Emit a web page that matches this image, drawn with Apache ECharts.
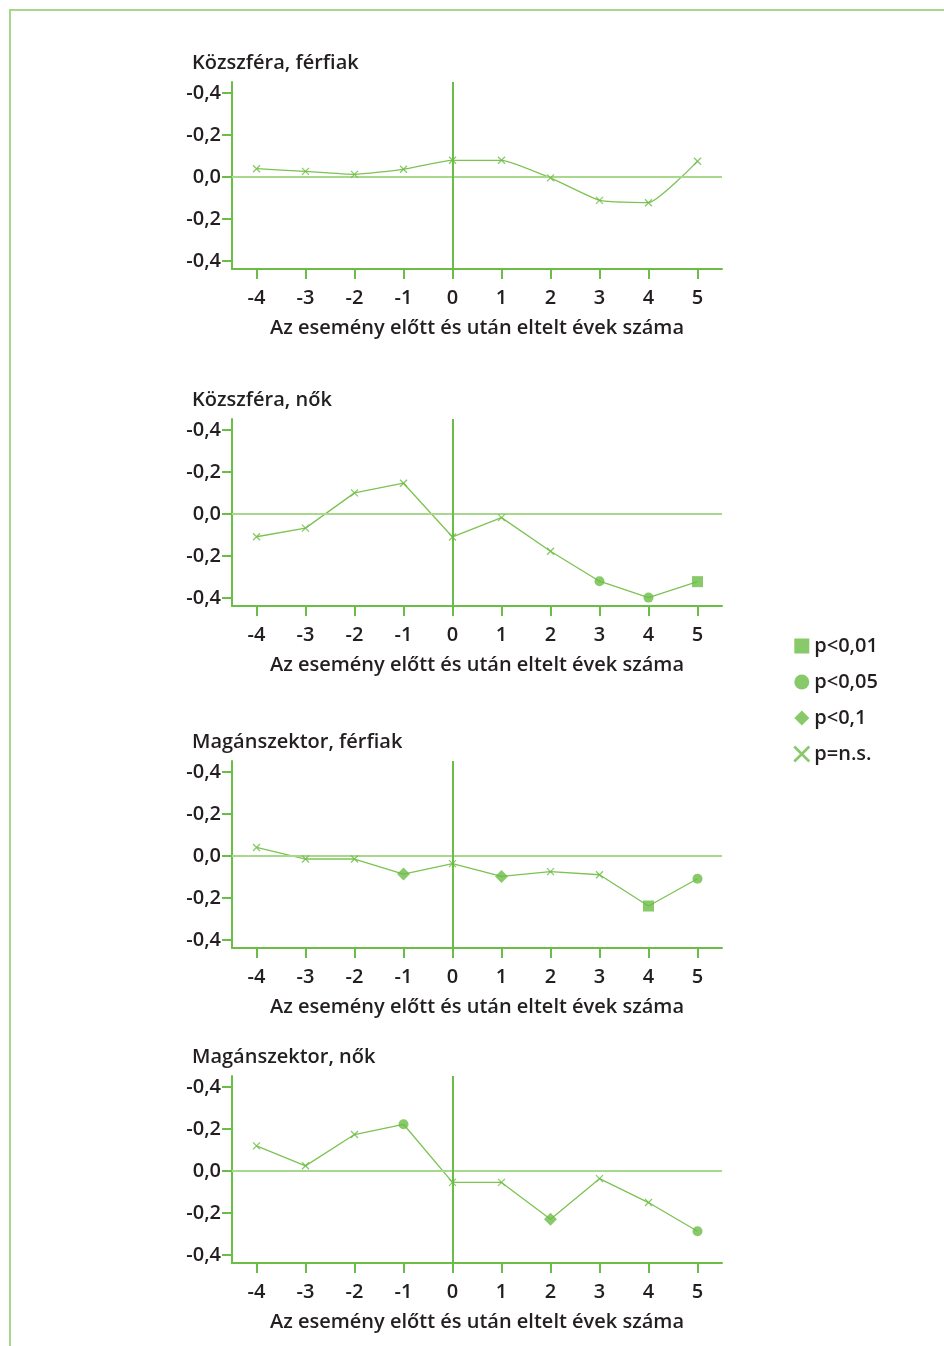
<!DOCTYPE html>
<html>
<head>
<meta charset="utf-8">
<script src="https://cdn.jsdelivr.net/npm/echarts@6/dist/echarts.min.js"></script>
<style>
  html, body { margin: 0; padding: 0; background: #ffffff; }
  #frame { position: absolute; left: 9px; top: 9px; width: 935px; height: 1337px;
           border-top: 2px solid #a6d88c; border-left: 2px solid #a6d88c; }
  #chart { position: absolute; left: 0; top: 0; width: 944px; height: 1346px; }
</style>
</head>
<body>
<div id="frame"></div>
<div id="chart"></div>
<script>
// ---- data ----
const xCats = ['-4', '-3', '-2', '-1', '0', '1', '2', '3', '4', '5'];
const yTickValues = [0.4, 0.2, 0, -0.2, -0.4];
const yTickLabels = ['-0,4', '-0,2', '0,0', '-0,2', '-0,4'];
const xAxisName = 'Az esemény előtt és után eltelt évek száma';
const panelTitles = ['Közszféra, férfiak', 'Közszféra, nők', 'Magánszektor, férfiak', 'Magánszektor, nők'];

const publicMen      = [0.040, 0.027, 0.013, 0.037, 0.080, 0.080, -0.004, -0.111, -0.122, 0.075];
const publicMenSig   = ['ns', 'ns', 'ns', 'ns', 'ns', 'ns', 'ns', 'ns', 'ns', 'ns'];
const publicWomen    = [-0.108, -0.067, 0.101, 0.147, -0.109, -0.017, -0.177, -0.320, -0.398, -0.322];
const publicWomenSig = ['ns', 'ns', 'ns', 'ns', 'ns', 'ns', 'ns', 'p05', 'p05', 'p01'];
const privateMen     = [0.041, -0.014, -0.014, -0.086, -0.036, -0.097, -0.074, -0.089, -0.238, -0.108];
const privateMenSig  = ['ns', 'ns', 'ns', 'p10', 'ns', 'p10', 'ns', 'ns', 'p01', 'p05'];
const privateWomen   = [0.120, 0.025, 0.174, 0.223, -0.054, -0.054, -0.230, -0.036, -0.150, -0.287];
const privateWomenSig= ['ns', 'ns', 'ns', 'p05', 'ns', 'ns', 'p10', 'ns', 'ns', 'p05'];

const sigKeys = ['p01', 'p05', 'p10', 'ns'];
const sigNames = { p01: 'p<0,01', p05: 'p<0,05', p10: 'p<0,1', ns: 'p=n.s.' };

// ---- styling ----
const GREEN = '#6abd45';
const LINE_GREEN = '#7cc352';
const ZERO_GREEN = '#a8d78e';
const TEXT = '#231f20';
const FONT = 'Open Sans';
const FW = 600;
const FS = 20;
const XPATH = 'path://M0,0L10,10M10,0L0,10';

const panels = [
  { title: panelTitles[0], values: publicMen, sig: publicMenSig, smooth: 0.15 },
  { title: panelTitles[1], values: publicWomen, sig: publicWomenSig, smooth: false },
  { title: panelTitles[2], values: privateMen, sig: privateMenSig, smooth: false },
  { title: panelTitles[3], values: privateWomen, sig: privateWomenSig, smooth: false }
];
const gridTops = [82, 419, 761, 1076];
const GRID_H = 187;

const symbolFor = {
  p01: { symbol: 'rect', size: 11, style: { color: GREEN } },
  p05: { symbol: 'circle', size: 10, style: { color: GREEN } },
  p10: { symbol: 'diamond', size: 13, style: { color: GREEN } },
  ns:  { symbol: XPATH, size: 7, style: { color: 'transparent', borderColor: GREEN, borderWidth: 1.3 } }
};

const grid = [], xAxis = [], yAxis = [], series = [], title = [];
panels.forEach((p, gi) => {
  grid.push({ left: 232, width: 490, top: gridTops[gi], height: GRID_H, containLabel: false });
  title.push({
    text: p.title, left: 187, top: gridTops[gi] - 34,
    textStyle: { fontFamily: FONT, fontSize: FS, fontWeight: FW, color: TEXT }
  });
  xAxis.push({
    type: 'category', gridIndex: gi, data: xCats, boundaryGap: true,
    axisLine: { show: true, onZero: false, lineStyle: { color: GREEN, width: 2 } },
    axisTick: { show: true, alignWithLabel: true, length: 10, lineStyle: { color: GREEN, width: 2 } },
    axisLabel: { fontFamily: FONT, fontSize: FS, fontWeight: FW, color: TEXT, margin: 19 },
    splitLine: { show: false },
    name: xAxisName, nameLocation: 'middle', nameGap: 49,
    nameTextStyle: { fontFamily: FONT, fontSize: FS, fontWeight: FW, color: TEXT }
  });
  yAxis.push({
    type: 'value', gridIndex: gi, min: -0.438, max: 0.453,
    axisLine: { show: true, lineStyle: { color: GREEN, width: 2 } },
    axisTick: { show: true, length: 10, customValues: yTickValues, lineStyle: { color: GREEN, width: 2 } },
    axisLabel: {
      fontFamily: FONT, fontSize: FS, fontWeight: FW, color: TEXT, margin: 11,
      customValues: yTickValues,
      formatter: v => {
        const i = yTickValues.findIndex(t => Math.abs(t - v) < 1e-6);
        return i >= 0 ? yTickLabels[i] : '';
      }
    },
    splitLine: { show: false }
  });
  series.push({
    type: 'line', xAxisIndex: gi, yAxisIndex: gi, data: p.values,
    smooth: p.smooth, symbol: 'none', z: 2,
    lineStyle: { color: LINE_GREEN, width: 1.3 },
    markLine: {
      silent: true, symbol: ['none', 'none'], label: { show: false }, animation: false,
      data: [
        { yAxis: 0, lineStyle: { color: ZERO_GREEN, width: 2, type: 'solid' } },
        { xAxis: xCats.indexOf('0'), lineStyle: { color: GREEN, width: 2, type: 'solid' } }
      ]
    }
  });
  sigKeys.forEach(k => {
    const s = symbolFor[k];
    series.push({
      type: 'scatter', name: sigNames[k], xAxisIndex: gi, yAxisIndex: gi, z: 5,
      symbol: s.symbol, symbolSize: s.size, itemStyle: s.style,
      data: p.values.map((v, i) => p.sig[i] === k ? v : '-')
    });
  });
});

const chart = echarts.init(document.getElementById('chart'), null, { renderer: 'canvas' });
chart.setOption({
  animation: false,
  backgroundColor: 'transparent',
  title, grid, xAxis, yAxis, series,
  legend: {
    orient: 'vertical', left: 788, top: 631, itemGap: 16, itemWidth: 15, itemHeight: 15,
    selectedMode: false,
    textStyle: { fontFamily: FONT, fontSize: FS, fontWeight: FW, color: TEXT },
    data: [
      { name: sigNames.p01, icon: 'rect' },
      { name: sigNames.p05, icon: 'circle' },
      { name: sigNames.p10, icon: 'diamond' },
      { name: sigNames.ns, icon: XPATH,
        itemStyle: { color: 'transparent', borderColor: GREEN, borderWidth: 2.6 } }
    ]
  }
});
</script>
</body>
</html>
